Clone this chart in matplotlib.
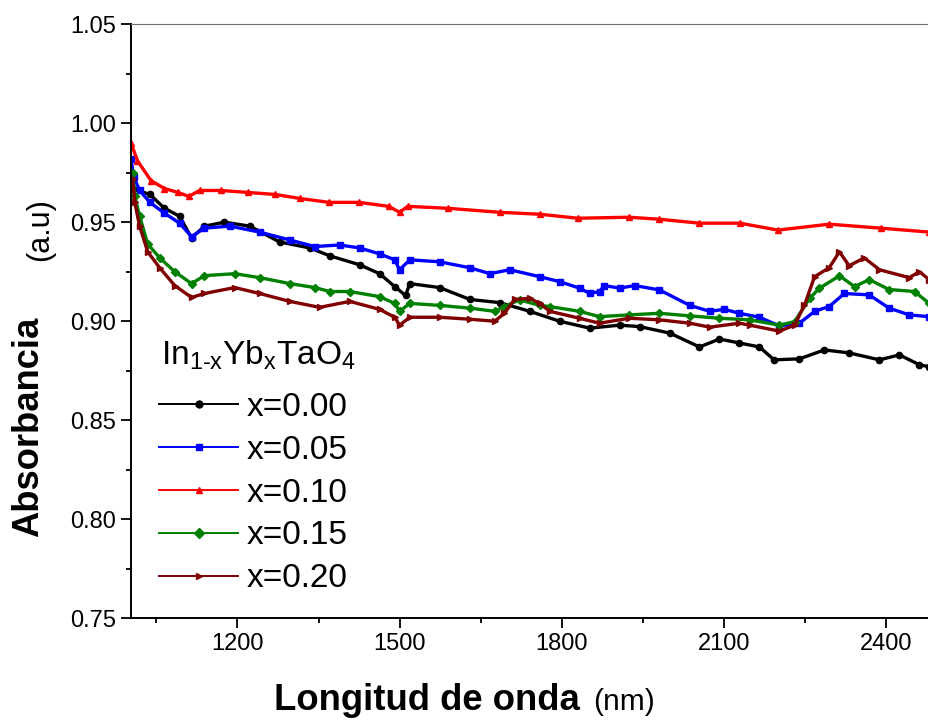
import matplotlib
matplotlib.use("Agg")
import matplotlib.pyplot as plt
from matplotlib.ticker import MultipleLocator, FormatStrFormatter

plt.rcParams.update({
    "font.family": "Liberation Sans",
    "mathtext.fontset": "custom",
    "mathtext.rm": "Liberation Sans",
    "mathtext.it": "Liberation Sans",
    "mathtext.default": "regular",
})

# x = 0.00
nm_000 = [1006, 1038, 1065, 1093, 1115, 1139, 1176, 1223, 1278, 1334, 1371, 1426, 1463,
          1491, 1511, 1519, 1574, 1630, 1685, 1741, 1796, 1852, 1907, 1944, 2000, 2055,
          2092, 2129, 2166, 2193, 2240, 2286, 2332, 2388, 2425, 2462, 2480]
ab_000 = [0.967, 0.964, 0.957, 0.953, 0.942, 0.948, 0.950, 0.948, 0.940, 0.937, 0.933, 0.9285, 0.924,
          0.9175, 0.913, 0.919, 0.917, 0.911, 0.9094, 0.905, 0.900, 0.8965, 0.898, 0.8973, 0.894, 0.887,
          0.891, 0.889, 0.887, 0.8805, 0.881, 0.8855, 0.884, 0.8805, 0.883, 0.878, 0.877]
# x = 0.05
nm_005 = [1003, 1008, 1019, 1038, 1065, 1093, 1115, 1139, 1186, 1241, 1297, 1343, 1389, 1426,
          1463, 1491, 1500, 1519, 1574, 1630, 1667, 1704, 1759, 1796, 1833, 1852, 1870, 1879,
          1907, 1935, 1981, 2037, 2074, 2101, 2129, 2166, 2203, 2240, 2268, 2295, 2323, 2369,
          2406, 2443, 2480]
ab_005 = [0.982, 0.973, 0.966, 0.960, 0.9545, 0.9495, 0.9427, 0.947, 0.948, 0.945, 0.941, 0.9377, 0.9385, 0.937,
          0.934, 0.931, 0.926, 0.931, 0.930, 0.927, 0.924, 0.926, 0.9225, 0.920, 0.9167, 0.914, 0.915, 0.918,
          0.9167, 0.918, 0.9158, 0.908, 0.905, 0.906, 0.904, 0.902, 0.8976, 0.899, 0.905, 0.9074, 0.914, 0.9133,
          0.9066, 0.9032, 0.9023]
# x = 0.10
nm_010 = [1003, 1015, 1040, 1065, 1090, 1110, 1130, 1170, 1220, 1270, 1315, 1370, 1425, 1480,
          1500, 1515, 1590, 1685, 1760, 1830, 1925, 1980, 2055, 2130, 2200, 2295, 2390, 2480]
ab_010 = [0.990, 0.981, 0.971, 0.967, 0.965, 0.963, 0.966, 0.966, 0.965, 0.964, 0.962, 0.960, 0.960, 0.958,
          0.955, 0.958, 0.957, 0.955, 0.954, 0.952, 0.9525, 0.9515, 0.9495, 0.9495, 0.946, 0.949, 0.947, 0.945]
# x = 0.15
nm_015 = [1006, 1010, 1019, 1034, 1056, 1084, 1115, 1139, 1195, 1241, 1297, 1343, 1371, 1408,
          1463, 1491, 1500, 1519, 1574, 1630, 1676, 1694, 1722, 1759, 1778, 1833, 1870, 1925,
          1981, 2037, 2092, 2148, 2203, 2231, 2259, 2277, 2314, 2342, 2369, 2406, 2453, 2480]
ab_015 = [0.975, 0.963, 0.953, 0.939, 0.932, 0.925, 0.919, 0.923, 0.924, 0.922, 0.919, 0.917, 0.915, 0.915,
          0.9124, 0.909, 0.905, 0.909, 0.908, 0.9066, 0.905, 0.9074, 0.9108, 0.908, 0.9074, 0.905, 0.9023, 0.9032,
          0.904, 0.9027, 0.9015, 0.9007, 0.898, 0.8998, 0.9116, 0.9167, 0.9229, 0.9175, 0.921, 0.916, 0.915, 0.909]
# x = 0.20
nm_020 = [1006, 1010, 1019, 1034, 1056, 1084, 1115, 1139, 1195, 1241, 1297, 1352, 1408, 1463,
          1491, 1500, 1519, 1574, 1630, 1676, 1694, 1713, 1741, 1759, 1778, 1833, 1870, 1925,
          1981, 2037, 2074, 2129, 2148, 2203, 2231, 2249, 2268, 2295, 2314, 2332, 2360, 2388,
          2443, 2462, 2480]
ab_020 = [0.972, 0.960, 0.948, 0.935, 0.927, 0.918, 0.912, 0.914, 0.917, 0.914, 0.910, 0.907, 0.910, 0.906,
          0.902, 0.898, 0.902, 0.902, 0.901, 0.900, 0.904, 0.911, 0.9116, 0.909, 0.905, 0.9015, 0.899, 0.9015,
          0.9007, 0.899, 0.897, 0.899, 0.898, 0.895, 0.898, 0.908, 0.9225, 0.927, 0.935, 0.928, 0.932, 0.926,
          0.922, 0.925, 0.921]

series = [
    (nm_000, ab_000, "x=0.00", "black", "o"),
    (nm_005, ab_005, "x=0.05", "#0000ff", "s"),
    (nm_010, ab_010, "x=0.10", "#ff0000", "^"),
    (nm_015, ab_015, "x=0.15", "#008000", "D"),
    (nm_020, ab_020, "x=0.20", "#800000", ">"),
]

fig = plt.figure(figsize=(9.29, 7.22), dpi=100)
ax = fig.add_axes([0.1410, 0.1436, 0.8708, 0.8230])

for xs, ys, lab, col, mk in series:
    ax.plot(xs, ys, color=col, marker=mk, markersize=4.5, linewidth=2.4, label=lab)

ax.set_xlim(1003, 2500)
ax.set_ylim(0.75, 1.05)
ax.xaxis.set_major_locator(MultipleLocator(300))
ax.xaxis.set_minor_locator(MultipleLocator(150))
ax.yaxis.set_major_locator(MultipleLocator(0.05))
ax.yaxis.set_minor_locator(MultipleLocator(0.025))
ax.yaxis.set_major_formatter(FormatStrFormatter("%.2f"))
ax.tick_params(which="both", direction="out", width=1.3, labelsize=17, top=False, right=False)
ax.tick_params(which="major", length=7)
ax.tick_params(which="minor", length=3.6)
ax.spines["left"].set_linewidth(1.4)
ax.spines["bottom"].set_linewidth(1.4)
ax.spines["top"].set_linewidth(0.8)
ax.spines["top"].set_color("0.45")
ax.spines["right"].set_visible(False)

leg = ax.legend(loc="upper left", bbox_to_anchor=(0.035, 0.381), frameon=False, fontsize=24,
                handlelength=2.37, handletextpad=0.25, labelspacing=0.355,
                borderpad=0, borderaxespad=0)
for h in leg.legend_handles:
    h.set_linewidth(1.4)
    h.set_markersize(5)

fig.text(161 / 929, 1 - 365 / 722, "In$_{1\u2010x}$Yb$_x$TaO$_4$", fontsize=24, va="baseline")

fig.text(274 / 929, 1 - 710 / 722, "Longitud de onda", fontsize=26.3, fontweight="bold", va="baseline")
fig.text(593 / 929, 1 - 710 / 722, "(nm)", fontsize=21.5, va="baseline")
fig.text(29 / 929, 1 - 427 / 722, "Absorbancia", fontsize=26.2, fontweight="bold",
         rotation=90, ha="center", va="center")
fig.text(40 / 929, 1 - 230 / 722, "(a.u)", fontsize=22, rotation=90, ha="center", va="center")

fig.savefig("out.png", dpi=100)
